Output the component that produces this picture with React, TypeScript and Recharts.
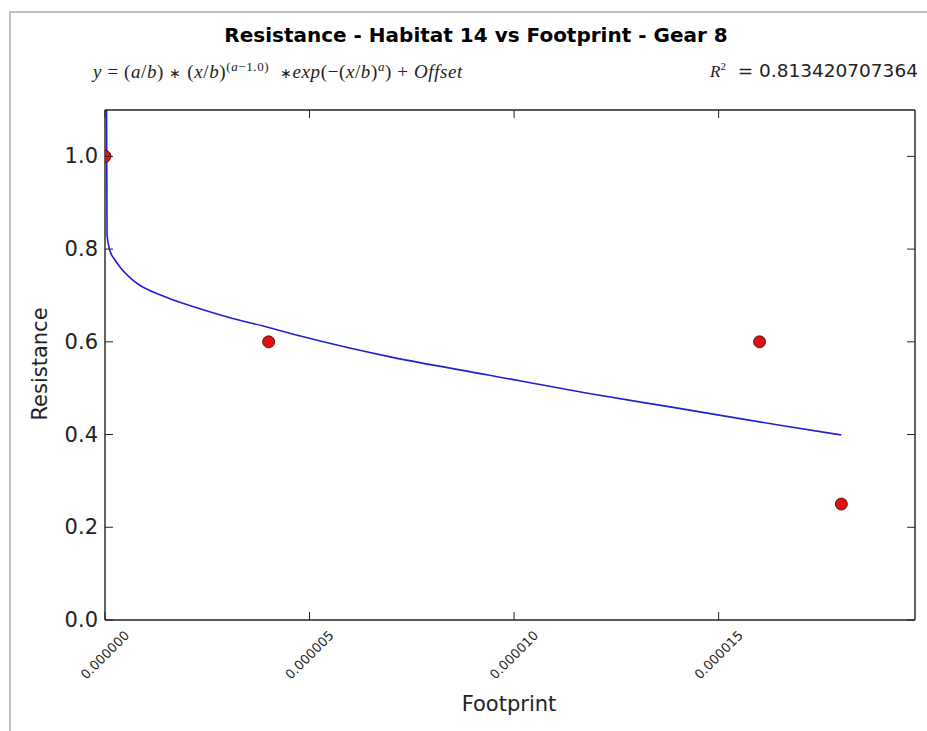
import { ComposedChart, Line, Scatter, XAxis, YAxis } from 'recharts'

// observed points
const obsX = [0, 0.000004, 0.000016, 0.000018]
const obsY = [1.0, 0.6, 0.6, 0.25]

// fitted curve
const fitX = [0.00000002, 0.00000005, 0.00000012, 0.00000024, 0.00000037, 0.00000068, 0.0000015, 0.0000023, 0.0000031, 0.000004, 0.0000048, 0.000007, 0.0000094, 0.0000118, 0.000014, 0.0000165, 0.000018]
const fitY = [1.5, 0.83, 0.797, 0.777, 0.761, 0.733, 0.696, 0.672, 0.651, 0.631, 0.612, 0.567, 0.528, 0.489, 0.457, 0.42, 0.399]

const xTicks = [0, 0.000005, 0.00001, 0.000015]
const yTicks = [0, 0.2, 0.4, 0.6, 0.8, 1.0]
const xDomain = [0, 0.0000198]
const yDomain = [0, 1.1]

const SANS = '"DejaVu Sans", sans-serif'
const SERIF = '"Liberation Serif", serif'
const TICK = 8

const fitData = fitX.map((x, i) => ({ x, y: fitY[i] }))
const obsData = obsX.map((x, i) => ({ x, y: obsY[i] }))

function BottomTick({ x, y, payload }: any) {
  const cy = y + 35
  return (
    <g>
      <line x1={x} x2={x} y1={y} y2={y - TICK} stroke="#222" strokeWidth={1} />
      <text x={x} y={cy} textAnchor="middle" dominantBaseline="central" transform={`rotate(-45 ${x} ${cy})`}
        fontSize={13} fontFamily={SANS} fill="#222">
        {payload.value.toFixed(6)}
      </text>
    </g>
  )
}

function TopTick({ x, y }: any) {
  return <line x1={x} x2={x} y1={y} y2={y + TICK} stroke="#222" strokeWidth={1} />
}

function LeftTick({ x, y, payload }: any) {
  return (
    <g>
      <line x1={x} x2={x + TICK} y1={y} y2={y} stroke="#222" strokeWidth={1} />
      <text x={x - 7} y={y} textAnchor="end" dominantBaseline="central" fontSize={21} fontFamily={SANS} fill="#222">
        {payload.value.toFixed(1)}
      </text>
    </g>
  )
}

function RightTick({ x, y }: any) {
  return <line x1={x} x2={x - TICK} y1={y} y2={y} stroke="#222" strokeWidth={1} />
}

const up = { fontStyle: 'normal' as const }
const star = { fontStyle: 'normal' as const, fontSize: 14 }

export default function App() {
  return (
    <div style={{ position: 'absolute', left: 0, top: 0, width: 927, height: 731, background: '#fff', overflow: 'hidden' }}>
      {/* grey frame round the figure */}
      <div style={{ position: 'absolute', left: 9, top: 11, width: 918, height: 720, borderTop: '2px solid #c0c0c0', borderLeft: '2px solid #c0c0c0' }} />

      <ComposedChart width={927} height={731} margin={{ top: 0, right: 0, bottom: 0, left: 0 }} style={{ position: 'absolute', left: 0, top: 0 }}>
        <XAxis type="number" dataKey="x" domain={xDomain} ticks={xTicks} allowDataOverflow height={111}
          tickSize={0} tickMargin={0} tickLine={false} tick={<BottomTick />} axisLine={{ stroke: '#222', strokeWidth: 1.4 }} />
        <XAxis xAxisId="top" orientation="top" type="number" dataKey="x" domain={xDomain} ticks={xTicks} allowDataOverflow height={110}
          tickSize={0} tickMargin={0} tickLine={false} tick={<TopTick />} axisLine={{ stroke: '#222', strokeWidth: 1.4 }} />
        <YAxis type="number" dataKey="y" domain={yDomain} ticks={yTicks} allowDataOverflow width={105}
          tickSize={0} tickMargin={0} tickLine={false} tick={<LeftTick />} axisLine={{ stroke: '#222', strokeWidth: 1.4 }} />
        <YAxis yAxisId="right" orientation="right" type="number" dataKey="y" domain={yDomain} ticks={yTicks} allowDataOverflow width={12}
          tickSize={0} tickMargin={0} tickLine={false} tick={<RightTick />} axisLine={{ stroke: '#222', strokeWidth: 1.4 }} />
        <Line data={fitData} dataKey="y" type="monotone" stroke="#2121cc" strokeWidth={1.6} dot={false} isAnimationActive={false} />
        <Scatter data={obsData} dataKey="y" fill="#e01010"
          shape={(p: any) => <circle cx={p.cx} cy={p.cy} r={6} fill="#e01010" stroke="#400000" strokeWidth={0.8} />}
          isAnimationActive={false} />
      </ComposedChart>

      {/* title and fit annotations */}
      <div style={{ position: 'absolute', left: 76, top: 23, width: 800, textAlign: 'center', fontFamily: SANS, fontWeight: 'bold', fontSize: 20, color: '#000' }}>
        Resistance - Habitat 14 vs Footprint - Gear 8
      </div>
      <div style={{ position: 'absolute', left: 93, top: 59, fontFamily: SERIF, fontStyle: 'italic', fontSize: 19, letterSpacing: 0.6, color: '#222', whiteSpace: 'nowrap' }}>
        y<span style={up}> = (</span>a<span style={up}>/</span>b<span style={up}>) </span><span style={star}>∗</span><span style={up}> (</span>x<span style={up}>/</span>b<span style={up}>)</span>
        <sup style={{ fontSize: 13 }}><span style={up}>(</span>a<span style={up}>−1.0)</span></sup>
        <span style={up}>&nbsp; </span><span style={star}>∗</span>exp<span style={up}>(−(</span>x<span style={up}>/</span>b<span style={up}>)</span>
        <sup style={{ fontSize: 13 }}>a</sup>
        <span style={up}>) + </span>Offset
      </div>
      <div style={{ position: 'absolute', left: 710, top: 60, fontSize: 18.5, color: '#222', whiteSpace: 'nowrap' }}>
        <span style={{ fontFamily: SERIF, fontStyle: 'italic', fontSize: 17 }}>R</span>
        <sup style={{ fontFamily: SERIF, fontSize: 11 }}>2</sup>
        <span style={{ fontFamily: SANS }}>&nbsp; = 0.813420707364</span>
      </div>

      {/* axis labels */}
      <div style={{ position: 'absolute', left: 309, top: 692, width: 400, textAlign: 'center', fontFamily: SANS, fontSize: 21, color: '#222' }}>
        Footprint
      </div>
      <div style={{ position: 'absolute', left: 40, top: 365, width: 0, height: 0 }}>
        <div style={{ position: 'absolute', left: -100, top: -13, width: 200, textAlign: 'center', transform: 'rotate(-90deg)', fontFamily: SANS, fontSize: 21, color: '#222' }}>
          Resistance
        </div>
      </div>
    </div>
  )
}
